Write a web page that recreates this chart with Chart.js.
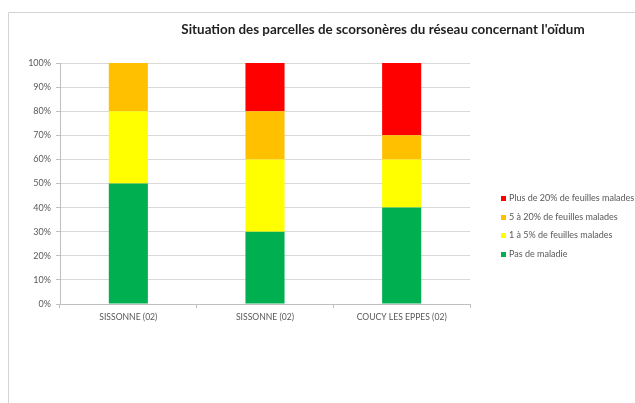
<!DOCTYPE html>
<html>
<head>
<meta charset="utf-8">
<script src="https://cdn.jsdelivr.net/npm/chart.js@4/dist/chart.umd.min.js"></script>
<style>
  html, body { margin: 0; padding: 0; background: #fff; }
</style>
</head>
<body>
<canvas id="chart" width="635" height="403"></canvas>
<script>
const categories = ["SISSONNE (02)", "SISSONNE (02)", "COUCY LES EPPES (02)"];
const seriesNames = [
  "Pas de maladie",
  "1 à 5% de feuilles malades",
  "5 à 20% de feuilles malades",
  "Plus de 20% de feuilles malades",
];
const pasDeMaladie = [50, 30, 40];
const unACinq = [30, 30, 20];
const cinqAVingt = [20, 20, 10];
const plusDeVingt = [0, 20, 30];
const seriesColors = ["#00b050", "#ffff00", "#ffc000", "#ff0000"];
const titleText = "Situation des parcelles de scorsonères du réseau concernant l'oïdum";

const FONT = "Lato, 'DejaVu Sans', sans-serif";
const TEXT = "#595959";

// frame, title and legend drawn by hand to sit where the spreadsheet put them
const extras = {
  id: "extras",
  afterDraw(chart) {
    const ctx = chart.ctx;
    ctx.save();
    ctx.strokeStyle = "#d4d4d4";
    ctx.lineWidth = 1;
    ctx.beginPath();
    ctx.moveTo(8.5, 403);
    ctx.lineTo(8.5, 12.5);
    ctx.lineTo(635, 12.5);
    ctx.stroke();

    ctx.fillStyle = "#1f1f1f";
    ctx.font = "bold 13.4px " + FONT;
    ctx.textAlign = "center";
    ctx.textBaseline = "middle";
    ctx.fillText(titleText, 383, 30);

    ctx.font = "9px " + FONT;
    ctx.textAlign = "left";
    const ds = chart.data.datasets;
    for (let k = 0; k < ds.length; k++) {
      const d = ds[ds.length - 1 - k];
      const y = 198 + k * 18.5;
      ctx.fillStyle = d.backgroundColor;
      ctx.fillRect(501, Math.round(y) - 2, 5, 5);
      ctx.fillStyle = TEXT;
      ctx.fillText(d.label, 509, y + 0.5);
    }
    ctx.restore();
  },
};

const seriesData = [pasDeMaladie, unACinq, cinqAVingt, plusDeVingt];

new Chart(document.getElementById("chart"), {
  type: "bar",
  data: {
    labels: categories,
    datasets: seriesNames.map((name, i) => ({
      label: name,
      data: seriesData[i],
      backgroundColor: seriesColors[i],
      borderWidth: 0,
      categoryPercentage: 1,
      barPercentage: 0.286,
    })),
  },
  options: {
    responsive: false,
    animation: false,
    devicePixelRatio: 1,
    layout: { padding: { left: 0, top: 63, right: 165, bottom: 0 } },
    plugins: {
      legend: { display: false },
      title: { display: false },
      tooltip: { enabled: false },
    },
    scales: {
      x: {
        stacked: true,
        offset: true,
        grid: {
          display: true,
          offset: true,
          drawOnChartArea: false,
          drawTicks: true,
          tickLength: 4,
          color: "#bfbfbf",
        },
        border: { display: true, color: "#bfbfbf" },
        ticks: { color: TEXT, font: { family: FONT, size: 8.6 }, padding: 4, maxRotation: 0 },
        afterFit(scale) { scale.height = 99; },
      },
      y: {
        stacked: true,
        min: 0,
        max: 100,
        ticks: {
          stepSize: 10,
          color: TEXT,
          font: { family: FONT, size: 9 },
          padding: 5,
          callback: (v) => v + "%",
        },
        grid: { color: "#d9d9d9", tickLength: 4, tickColor: "#bfbfbf" },
        border: { display: true, color: "#bfbfbf" },
        afterFit(scale) { scale.width = 60; },
      },
    },
  },
  plugins: [extras],
});
</script>
</body>
</html>
